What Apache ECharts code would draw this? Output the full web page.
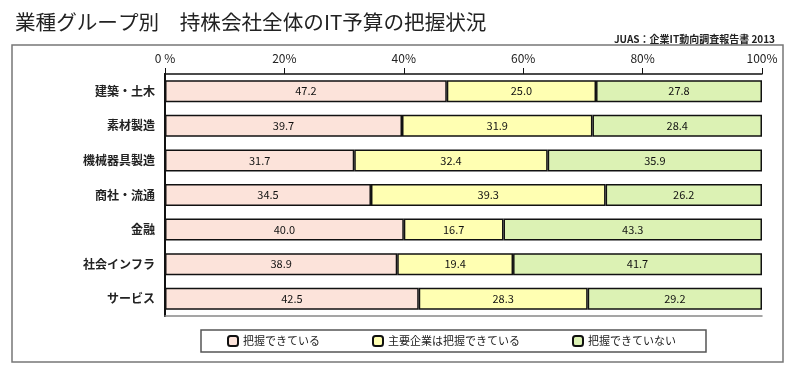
<!DOCTYPE html>
<html><head><meta charset="utf-8">
<script src="https://cdn.jsdelivr.net/npm/echarts@6/dist/echarts.min.js"></script>
<style>html,body{margin:0;padding:0;background:#fff}#c{width:800px;height:373px}</style>
</head><body><div id="c"></div>
<script>
const categories = ['建築・土木','素材製造','機械器具製造','商社・流通','金融','社会インフラ','サービス'];
const seriesNames = ['把握できている','主要企業は把握できている','把握できていない'];
const graspedAll = [47.2, 39.7, 31.7, 34.5, 40.0, 38.9, 42.5];
const graspedMajor = [25.0, 31.9, 32.4, 39.3, 16.7, 19.4, 28.3];
const notGrasped = [27.8, 28.4, 35.9, 26.2, 43.3, 41.7, 29.2];
const tickValues = [0, 20, 40, 60, 80, 100];
const colors = ['#fce3da', '#ffffb2', '#dcf2b4'];
const FONT = '"Noto Sans CJK JP", sans-serif';

const chart = echarts.init(document.getElementById('c'), null, {renderer: 'canvas'});
const mk = (name, data, i) => ({
  name, type: 'bar', stack: 'all', data, barWidth: 22,
  itemStyle: {color: colors[i], borderColor: '#111', borderWidth: 1.5},
  label: {show: true, position: 'inside', color: '#111', fontSize: 11, fontFamily: FONT,
    formatter: p => p.value.toFixed(1)},
  emphasis: {disabled: true}
});
chart.setOption({
  animation: false,
  textStyle: {fontFamily: FONT},
  title: [
    {text: '業種グループ別　持株会社全体のIT予算の把握状況', left: 10, top: 7,
     textStyle: {fontSize: 20.6, fontWeight: 'normal', color: '#222', fontFamily: FONT}},
    {text: 'JUAS：企業IT動向調査報告書 2013', right: 20, top: 29,
     textStyle: {fontSize: 10, fontWeight: 'bold', color: '#222', fontFamily: FONT}}
  ],
  graphic: [{type: 'rect', shape: {x: 12, y: 45, width: 771, height: 317},
    style: {fill: 'none', stroke: '#777', lineWidth: 1.5}, z: -1}],
  legend: {
    data: seriesNames, left: 201, top: 330, itemGap: 52, itemWidth: 10, itemHeight: 10,
    padding: [5, 30, 5, 26], borderColor: '#555', borderWidth: 1.5, backgroundColor: '#fff',
    textStyle: {fontSize: 11, color: '#222', fontFamily: FONT}, selectedMode: false
  },
  grid: {left: 165, right: 38, top: 74, bottom: 57},
  xAxis: [
    {type: 'value', min: 0, max: 100, interval: 20, position: 'top',
     axisLine: {show: true, lineStyle: {color: '#111', width: 1.5}},
     axisTick: {show: true, length: 6, lineStyle: {color: '#111', width: 1}},
     axisLabel: {margin: 10, fontSize: 12, color: '#222', fontFamily: FONT,
       formatter: v => tickValues.includes(v) ? (v === 0 ? '0 %' : v + '%') : ''},
     splitLine: {show: false}},
    {type: 'value', min: 0, max: 100, position: 'bottom',
     axisLine: {show: true, lineStyle: {color: '#888', width: 1.5}},
     axisTick: {show: false}, axisLabel: {show: false}, splitLine: {show: false}}
  ],
  yAxis: [
    {type: 'category', data: categories, inverse: true, position: 'left',
     axisLine: {show: true, lineStyle: {color: '#111', width: 2}},
     axisTick: {show: false},
     axisLabel: {margin: 10, fontSize: 12, fontWeight: 'bold', color: '#222', fontFamily: FONT}},
    {type: 'category', data: categories, inverse: true, position: 'right',
     axisLine: {show: true, lineStyle: {color: '#111', width: 2}},
     axisTick: {show: false}, axisLabel: {show: false}}
  ],
  series: [mk(seriesNames[0], graspedAll, 0), mk(seriesNames[1], graspedMajor, 1), mk(seriesNames[2], notGrasped, 2)]
});
</script></body></html>
